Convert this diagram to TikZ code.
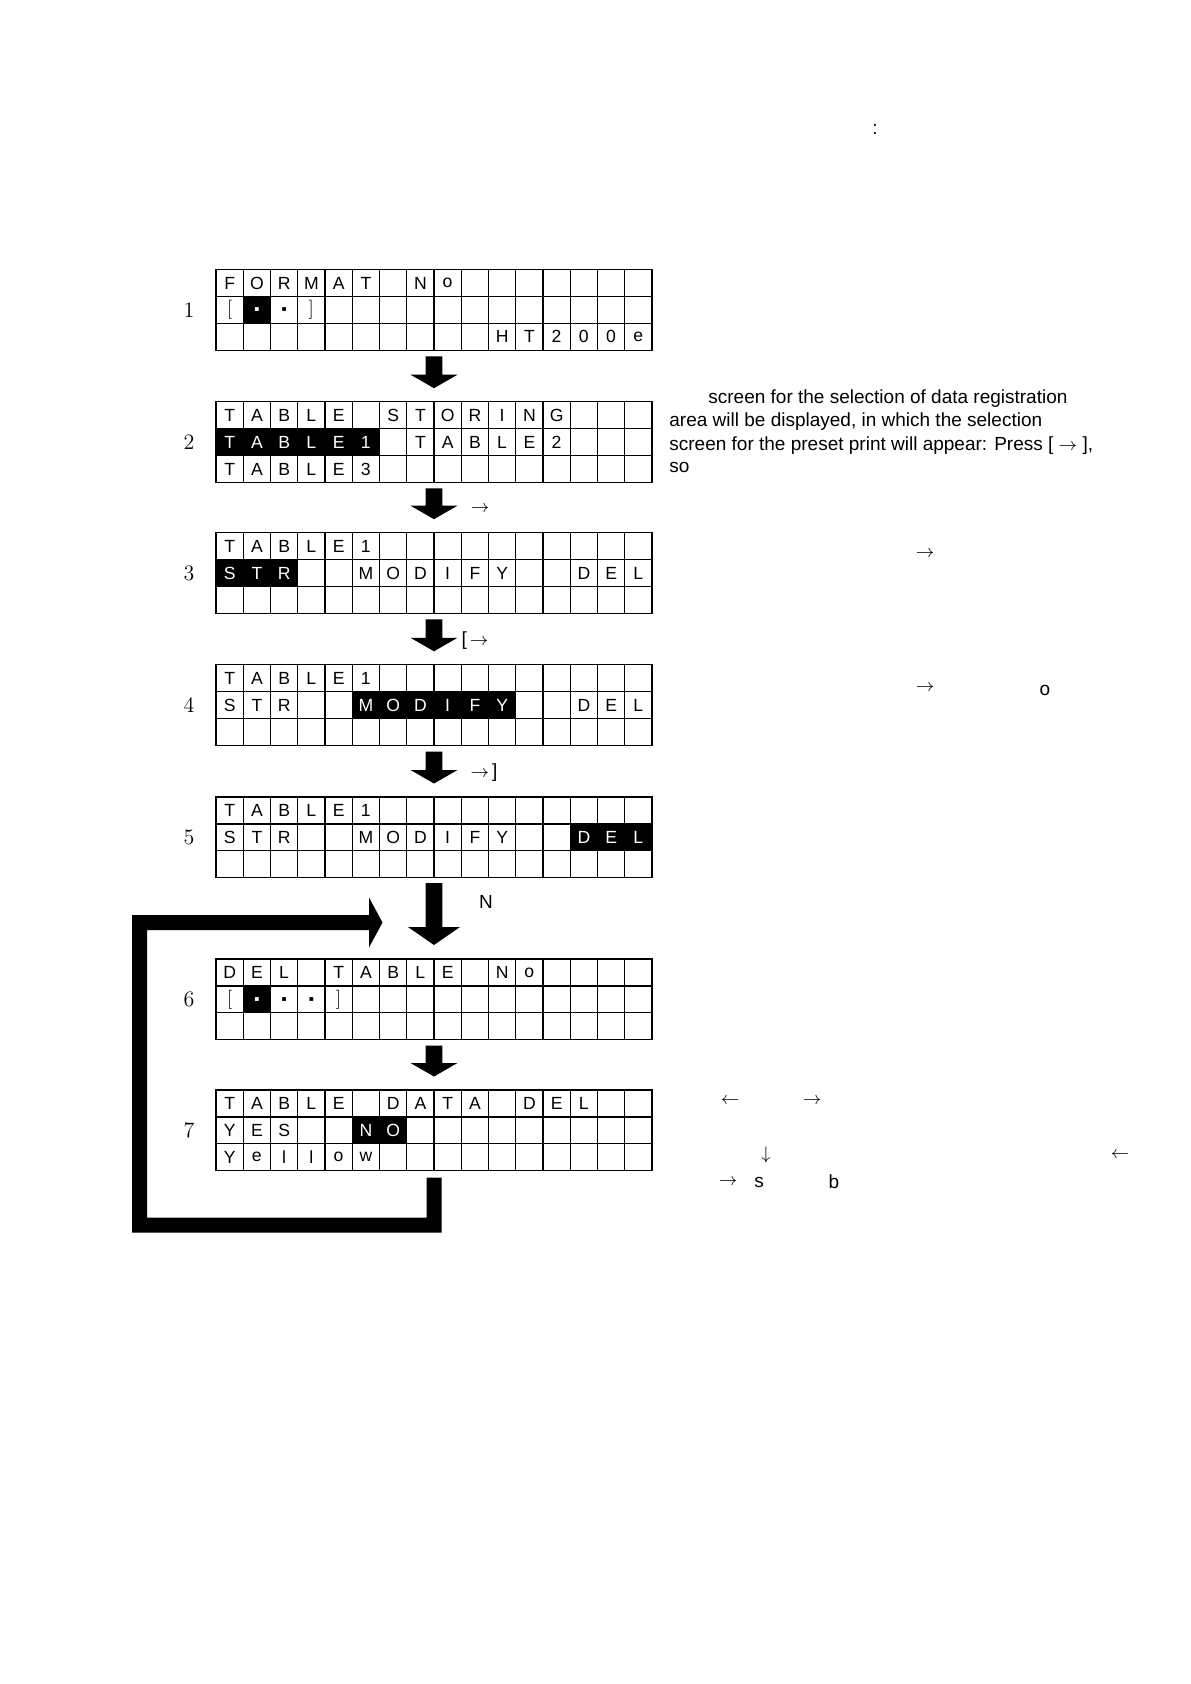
\documentclass[tikz,border=0pt]{standalone}
\usepackage{fontspec}
\usetikzlibrary{calc}
\newfontfamily\arial{Liberation Sans}
\newfontfamily\dejavu{DejaVu Sans}
\newcommand{\dotc}{{\dejavu\fontsize{3.8}{5}\selectfont ▪}}
\newcommand{\lbr}{{\rmfamily\fontsize{9.5}{10}\selectfont[}}
\newcommand{\rbr}{{\rmfamily\fontsize{9.5}{10}\selectfont]}}
\newcommand{\ra}{{\rmfamily\(\rightarrow\)}}
\newcommand{\la}{{\rmfamily\(\leftarrow\)}}
\newcommand{\da}{{\rmfamily\(\downarrow\)}}
\tikzset{
  cellline/.style={line width=0.6pt, line cap=rect},
  gridbox/.style={draw=none, minimum width=218pt, minimum height=40.35pt, inner sep=0pt, outer sep=0pt},
  lcd/.style={font=\arial\fontsize{8.8}{9}\selectfont, inner sep=0pt},
  lcdw/.style={lcd, text=white},
  hlbox/.style={fill=black},
  blockarrow/.style={fill=black},
  loopline/.style={line width=7.5pt, line join=miter},
  num/.style={font=\fontsize{11}{13}\selectfont, inner sep=0pt},
  note/.style={font=\arial\fontsize{9.5}{11}\selectfont, anchor=base west, inner sep=0pt},
  sym/.style={font=\arial\fontsize{9.5}{11}\selectfont, inner sep=0pt}
}
% grid: name, top y
\newcommand{\lcdgrid}[2]{%
  \node[gridbox] (#1) at (434,{#2+40.35}) {};
  \foreach \i in {0,...,16} \draw[cellline] ($(#1.north west)+({\i*27.25},0)$) -- ($(#1.south west)+({\i*27.25},0)$);
  \foreach \j in {0,...,3} \draw[cellline] ($(#1.north west)+(0,{\j*26.9})$) -- ($(#1.north east)+(0,{\j*26.9})$);
}
% row of characters: style, grid, row, start column, list
\newcommand{\lcdrow}[5]{%
  \foreach \ch [count=\k from #4] in {#5} {
    \node[#1] (#2-#3-\k) at ($(#2.north west)+({(\k-0.5)*27.25},{(#3-0.5)*26.9})$) {\ch};
  }
}
% highlight: grid, row, first col, last col
\newcommand{\hl}[4]{%
  \fill[hlbox] ($(#1.north west)+({(#3-1)*27.25},{(#2-1)*26.9})$) rectangle ($(#1.north west)+({#4*27.25},{#2*26.9})$);
}
% block arrow: from, to, start offset, head length, tip gap, head half width
\newcommand{\blkarrow}[6]{%
  \fill[blockarrow] ($(#1.south)+(-8.3,#3)$) -- ($(#1.south)+(8.3,#3)$)
    -- ($(#2.north)+(8.3,{-(#5+#4)})$) -- ($(#2.north)+(#6,{-(#5+#4)})$)
    -- ($(#2.north)+(0,-#5)$) -- ($(#2.north)+(-#6,{-(#5+#4)})$)
    -- ($(#2.north)+(-8.3,{-(#5+#4)})$) -- cycle;
}
\begin{document}
\begin{tikzpicture}[x=0.5pt,y=-0.5pt]
\useasboundingbox (0,0) rectangle (1190,1684);
\fill[white] (0,0) rectangle (1190,1684);

% grids
\lcdgrid{g1}{269.6}
\lcdgrid{g2}{401.7}
\lcdgrid{g3}{532.7}
\lcdgrid{g4}{664.8}
\lcdgrid{g5}{797}
\lcdgrid{g6}{959}
\lcdgrid{g7}{1090}

% highlights
\hl{g1}{2}{2}{2}
\hl{g2}{2}{1}{6}
\hl{g3}{2}{1}{3}
\hl{g4}{2}{6}{11}
\hl{g5}{2}{14}{16}
\hl{g6}{2}{2}{2}
\hl{g7}{2}{6}{7}

% grid 1
\lcdrow{lcd}{g1}{1}{1}{F,O,R,M,A,T,{},N,o}
\lcdrow{lcd}{g1}{2}{1}{\lbr}
\lcdrow{lcdw}{g1}{2}{2}{\dotc}
\lcdrow{lcd}{g1}{2}{3}{\dotc,\rbr}
\lcdrow{lcd}{g1}{3}{11}{H,T,2,0,0,e}
% grid 2
\lcdrow{lcd}{g2}{1}{1}{T,A,B,L,E,{},S,T,O,R,I,N,G}
\lcdrow{lcdw}{g2}{2}{1}{T,A,B,L,E,1}
\lcdrow{lcd}{g2}{2}{8}{T,A,B,L,E,2}
\lcdrow{lcd}{g2}{3}{1}{T,A,B,L,E,3}
% grid 3
\lcdrow{lcd}{g3}{1}{1}{T,A,B,L,E,1}
\lcdrow{lcdw}{g3}{2}{1}{S,T,R}
\lcdrow{lcd}{g3}{2}{6}{M,O,D,I,F,Y}
\lcdrow{lcd}{g3}{2}{14}{D,E,L}
% grid 4
\lcdrow{lcd}{g4}{1}{1}{T,A,B,L,E,1}
\lcdrow{lcd}{g4}{2}{1}{S,T,R}
\lcdrow{lcdw}{g4}{2}{6}{M,O,D,I,F,Y}
\lcdrow{lcd}{g4}{2}{14}{D,E,L}
% grid 5
\lcdrow{lcd}{g5}{1}{1}{T,A,B,L,E,1}
\lcdrow{lcd}{g5}{2}{1}{S,T,R}
\lcdrow{lcd}{g5}{2}{6}{M,O,D,I,F,Y}
\lcdrow{lcdw}{g5}{2}{14}{D,E,L}
% grid 6
\lcdrow{lcd}{g6}{1}{1}{D,E,L,{},T,A,B,L,E,{},N,o}
\lcdrow{lcd}{g6}{2}{1}{\lbr}
\lcdrow{lcdw}{g6}{2}{2}{\dotc}
\lcdrow{lcd}{g6}{2}{3}{\dotc,\dotc,\rbr}
% grid 7
\lcdrow{lcd}{g7}{1}{1}{T,A,B,L,E,{},D,A,T,A,{},D,E,L}
\lcdrow{lcd}{g7}{2}{1}{Y,E,S}
\lcdrow{lcdw}{g7}{2}{6}{N,O}
\lcdrow{lcd}{g7}{3}{1}{Y,e,l,l,o,w}

% step numbers
\foreach \n in {1,...,7} \node[num] (n\n) at ($(g\n.west)+(-27,0)$) {\n};

% block arrows
\blkarrow{g1}{g2}{6}{13.5}{13.5}{23.5}
\blkarrow{g2}{g3}{6}{13.5}{13.5}{23.5}
\blkarrow{g3}{g4}{6}{13.5}{13.5}{23.5}
\blkarrow{g4}{g5}{6}{13.5}{13.5}{23.5}
\blkarrow{g5}{g6}{5.5}{18}{14}{26}
\blkarrow{g6}{g7}{6}{13.5}{13.5}{23.5}

% loop back connector
\coordinate (lp0) at ($(g7.south)+(0,7)$);
\coordinate (lp1) at ($(g7.south)+(0,54.5)$);
\coordinate (lp2) at (139.5,1225.2);
\coordinate (lp3) at (139.5,922.5);
\coordinate (lp4) at ($(g6.north)+(-64.5,-36.5)$);
\draw[loopline] (lp0) -- (lp1) -- (lp2) -- (lp3) -- (lp4);
\fill[blockarrow] ($(lp4)+(-0.5,-25)$) -- ($(lp4)+(13,0)$) -- ($(lp4)+(-0.5,25)$) -- cycle;

% arrow labels
\node[sym] (a2) at ($(g2.south)+(46,27)$) {\ra};
\node[sym] (a3) at ($(g3.south)+(41,27)$) {[\,\ra};
\node[sym] (a4) at ($(g4.south)+(50,27)$) {\ra\,]};
\node[sym] (a5) at (486,902) {N};

% right-hand text
\node[sym] (colon) at (875,129) {:};
\node[note] (p1) at (708,404) {screen for the selection of data registration};
\node[note] (p2) at (669,427) {area will be displayed, in which the selection};
\node[note] (p3) at (669,451) {screen for the preset print will appear: Press [ \ra\ ],};
\node[note] (p4) at (669,473) {so};

\node[sym] (r3) at (925,554) {\ra};
\node[sym] (r4a) at (925,688) {\ra};
\node[sym] (r4b) at (1045,690) {o};
\node[sym] (r7a) at (730,1101) {\la};
\node[sym] (r7b) at (812,1101) {\ra};
\node[sym] (r7c) at (766,1155) {\da};
\node[sym] (r7d) at (1120,1155) {\la};
\node[sym] (r7e) at (728,1182) {\ra};
\node[sym] (r7f) at (759,1182) {s};
\node[sym] (r7g) at (834,1182) {b};
\end{tikzpicture}
\end{document}
